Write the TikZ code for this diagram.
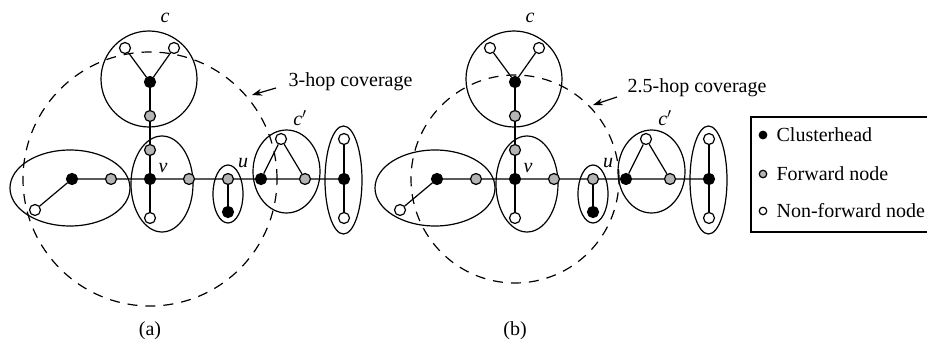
\documentclass[tikz,border=0pt]{standalone}
\usepackage{fontspec}
\setmainfont{Liberation Serif}
\usetikzlibrary{arrows.meta}
\definecolor{fwdgray}{HTML}{B4B4B4}

\begin{document}
\begin{tikzpicture}[x=1pt,y=-1pt,
      line width=1.2pt,
      ch/.style={circle,draw,fill=black,minimum size=11pt,inner sep=0pt},
      fwd/.style={circle,draw,fill=fwdgray,minimum size=11pt,inner sep=0pt},
      nfwd/.style={circle,draw,fill=white,minimum size=11pt,inner sep=0pt},
      key/.style={minimum size=7.5pt},
      cover/.style={dash pattern=on 10pt off 8pt},
      lbl/.style={font=\fontsize{20}{24}\selectfont},
      tag/.style={font=\fontsize{20}{24}\selectfont\itshape},
      pointer/.style={-{Stealth[length=10pt,width=7pt]}}]

    \useasboundingbox (0,0) rectangle (927,342);

    \foreach \p/\dx/\rr/\cov/\tx/\ty/\fx/\fy/\kx/\ky in
        {a/0/127/3-hop coverage/288/82/276/88/252/95,
         b/365/104/2.5-hop coverage/262/88/252/97/228/105} {
      \begin{scope}[xshift=\dx pt]
        % clusters
        \draw (149,79) circle [radius=48pt];
        \draw (70,188) ellipse [x radius=60pt,y radius=38pt];
        \draw (162,184) ellipse [x radius=31pt,y radius=48pt];
        \draw (228,194) ellipse [x radius=15pt,y radius=29pt];
        \draw (286.5,171.5) ellipse [x radius=33.5pt,y radius=41.5pt];
        \draw (343.5,180) ellipse [x radius=18.5pt,y radius=54pt];
        \draw[cover] (150,179) circle [radius=\rr pt];

        \node[ch] (\p-l) at (72,179) {};
        \node[nfwd] (\p-lw) at (35,210) {};
        \node[fwd] (\p-lf) at (111,179) {};
        \node[ch] (\p-v) at (150,179) {};
        \node[fwd] (\p-vt) at (150,150) {};
        \node[nfwd] (\p-vb) at (150,218) {};
        \node[fwd] (\p-vr) at (189,179) {};
        \node[ch] (\p-c) at (150,82) {};
        \node[fwd] (\p-cf) at (150,116) {};
        \node[nfwd] (\p-cw1) at (125,48) {};
        \node[nfwd] (\p-cw2) at (174,48) {};
        \node[fwd] (\p-u) at (228,179) {};
        \node[ch] (\p-ub) at (228,212) {};
        \node[ch] (\p-d) at (261,179) {};
        \node[nfwd] (\p-dw) at (281,139) {};
        \node[fwd] (\p-df) at (305,179) {};
        \node[ch] (\p-r) at (344,179) {};
        \node[nfwd] (\p-rt) at (344,139) {};
        \node[nfwd] (\p-rb) at (344,218) {};

        \draw (\p-lw) -- (\p-l) -- (\p-lf) -- (\p-v) -- (\p-vr) -- (\p-u)
          -- (\p-d) -- (\p-df) -- (\p-r);
        \draw (\p-cw1) -- (\p-c) -- (\p-cw2);
        \draw (\p-c) -- (\p-cf) -- (\p-vt) -- (\p-v) -- (\p-vb);
        \draw (\p-u) -- (\p-ub);
        \draw (\p-d) -- (\p-dw) -- (\p-df);
        \draw (\p-rt) -- (\p-r) -- (\p-rb);

        \node[tag] (\p-ctag) at (165,18) {c};
        \node[tag] (\p-vtag) at (163,168) {v};
        \node[tag] (\p-utag) at (243,163) {u};
        \node[tag] (\p-dtag) at (300,118) {c$'$};

        \node[lbl,anchor=west,inner sep=0pt] (\p-cov) at (\tx,\ty) {\cov};
        \coordinate (\p-from) at (\fx,\fy);
        \coordinate (\p-tip) at (\kx,\ky);
        \draw[pointer] (\p-from) -- (\p-tip);

        \node[lbl] (\p-cap) at (150,331) {(\p)};
      \end{scope}
    }

    % legend
    \draw (927,117) -- (751,117) -- (751,232) -- (927,232);
    \node[ch,key] (k-ch) at (763,135) {};
    \node[fwd,key] (k-fwd) at (763,174) {};
    \node[nfwd,key] (k-nfwd) at (763,211) {};
    \node[lbl,anchor=west,inner sep=0pt] (k-chtxt) at (776,135) {Clusterhead};
    \node[lbl,anchor=west,inner sep=0pt] (k-fwdtxt) at (776,174) {Forward node};
    \node[lbl,anchor=west,inner sep=0pt] (k-nfwdtxt) at (776,211) {Non-forward node};
  \end{tikzpicture}
\end{document}
